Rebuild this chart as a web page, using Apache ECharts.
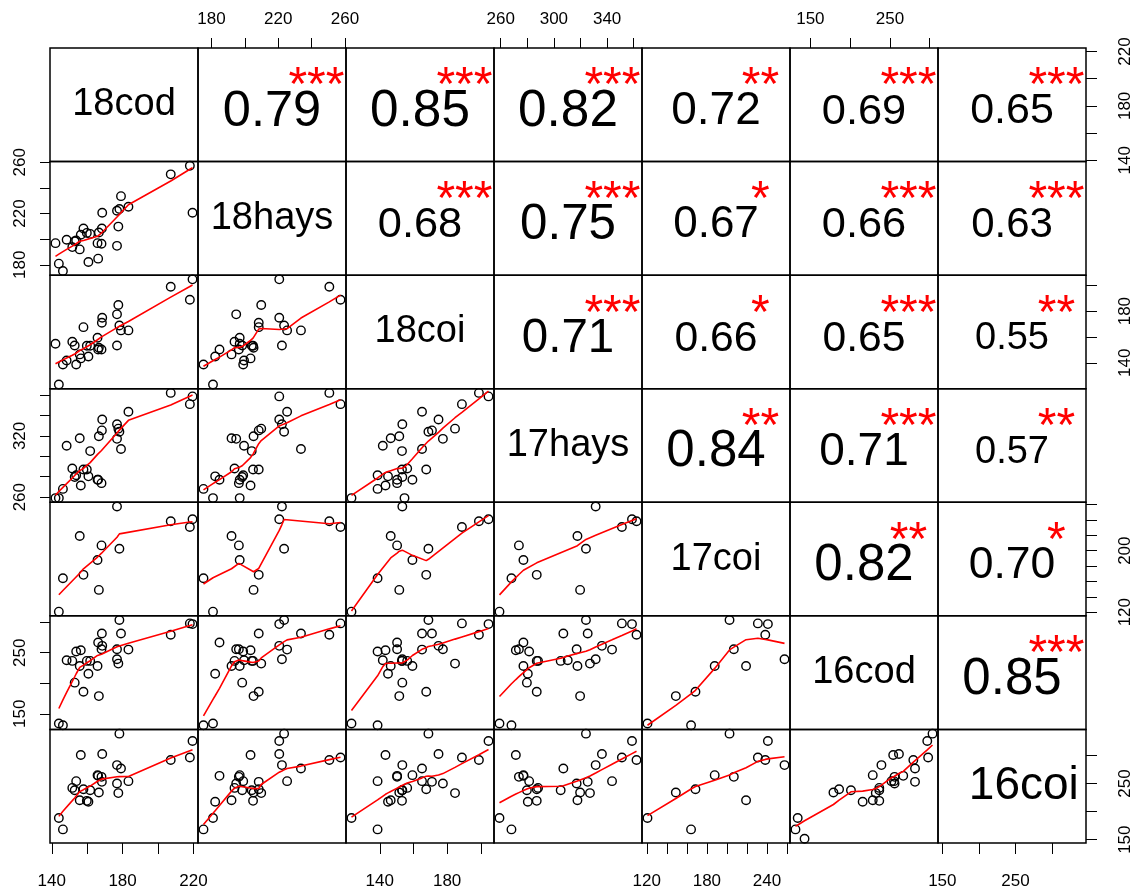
<!DOCTYPE html>
<html><head><meta charset="utf-8">
<script src="https://cdn.jsdelivr.net/npm/echarts@6/dist/echarts.min.js"></script>
<style>html,body{margin:0;padding:0;background:#fff}#c{width:1136px;height:892px}</style>
</head><body><div id="c"></div>
<script>
// ---------------- data ----------------
const varNames = ['18cod', '18hays', '18coi', '17hays', '17coi', '16cod', '16coi'];

// one entry per observation (same order in every array); null = missing
const v18cod  = [218.0, 207.2, 219.5, 179.1, 183.3, 176.85, 178.2, 168.5, 177.6, 157.9, 156.4, 159.8, 161.7, 168.3, 166.6, 148.4, 152.95, 142.1, 151.6, 155.8, 165.85, 168.1, 176.85, 160.7, 166.2, 144.0, 146.3, 153.8, null];
const v18hays = [257.3, 250.6, 220.6, 233.6, 225.3, 222.2, 223.5, 220.6, 209.8, 208.3, 203.4, 204.9, 204.1, 208.3, 205.2, 199.5, 198.4, 196.9, 193.8, 192.0, 196.9, 196.4, 194.8, 182.2, 184.8, 180.9, 175.2, 199.0, null];
const v18coi  = [188.8, 198.9, 204.6, 165.1, 165.1, 153.4, 168.9, 174.9, 184.7, 167.6, 143.4, 153.2, 153.2, 171.0, 151.6, 141.8, 153.4, 154.7, 156.3, 146.5, 159.4, 150.3, 177.5, 144.9, 150.3, 123.2, 138.7, 138.7, null];
const v17hays = [351.1, 362.1, 358.7, 307.1, 343.7, 331.4, 324.1, 336.1, 327.1, 287.1, 271.4, 287.1, 305.1, 325.4, 319.7, 310.4, 279.7, 259.1, 288.1, 317.7, 277.1, 273.7, 317.1, 280.4, 277.1, 259.1, 268.1, 281.4, null];
const v17coi  = [230.9, 238.3, 240.9, null, null, 257.5, 202.6, null, null, 168.6, null, null, null, null, 149.0, null, null, null, null, 219.1, 187.8, 206.9, null, null, null, 120.7, 164.2, null, null];
const v16cod  = [298.0, 279.4, 296.9, 281.5, 255.1, 239.3, 303.5, 261.3, 232.2, 186.1, 254.1, 236.6, 236.6, 281.5, 179.0, 237.7, 201.0, null, 236.6, 228.4, 228.4, 255.8, 255.8, 215.7, 266.7, 134.1, 131.3, 251.9, 142.7];
const v16coi  = [296.6, 292.0, 325.9, 276.9, 254.3, 282.9, 339.0, 302.6, 233.0, 240.0, 300.8, 219.2, 238.1, 253.1, 234.0, null, 238.1, null, 242.3, 220.2, 265.0, 262.0, 250.1, 217.6, 263.8, 188.6, 168.3, 254.3, 151.6];

// correlation coefficients and significance (upper triangle, row by row)
const corrRow1 = [0.79, 0.85, 0.82, 0.72, 0.69, 0.65];
const corrRow2 = [0.68, 0.75, 0.67, 0.66, 0.63];
const corrRow3 = [0.71, 0.66, 0.65, 0.55];
const corrRow4 = [0.84, 0.71, 0.57];
const corrRow5 = [0.82, 0.70];
const corrRow6 = [0.85];
const starsRow1 = ['***', '***', '***', '**', '***', '***'];
const starsRow2 = ['***', '***', '*', '***', '***'];
const starsRow3 = ['***', '*', '***', '**'];
const starsRow4 = ['**', '***', '**'];
const starsRow5 = ['**', '*'];
const starsRow6 = ['***'];

// axis ticks and labelled ticks
const ticks18cod  = [140, 160, 180, 200, 220];
const ticks18hays = [180, 200, 220, 240, 260];
const ticks18coi  = [140, 160, 180, 200];
const ticks17hays = [260, 280, 300, 320, 340, 360];
const ticks17coi  = [120, 140, 160, 180, 200, 220, 240, 260];
const ticks16cod  = [150, 200, 250, 300];
const ticks16coi  = [150, 200, 250, 300];
const labels18codBottom  = [140, 180, 220];
const labels18codRight   = [140, 180, 220];
const labels18haysTop    = [180, 220, 260];
const labels18haysLeft   = [180, 220, 260];
const labels18coiBottom  = [140, 180];
const labels18coiRight   = [140, 180];
const labels17haysTop    = [260, 300, 340];
const labels17haysLeft   = [260, 320];
const labels17coiBottom  = [120, 180, 240];
const labels17coiRight   = [120, 200];
const labels16codTop     = [150, 250];
const labels16codLeft    = [150, 250];
const labels16coiBottom  = [150, 250];
const labels16coiRight   = [150, 250];

// ---------------- styling (not data) ----------------
const corrFontSizes = [[50.5, 51.3, 51.3, 46, 43.4, 43], [43.4, 49.3, 44, 43.4, 42], [47.5, 42.7, 42.7, 38], [51, 46, 38], [51, 44.5], [51]];
const diagFontSizes = [38, 38, 38, 38, 38, 38, 46];
const diagXFrac = [0.5, 0.5, 0.5, 0.5, 0.5, 0.5, 0.58];
const FONT = '"Liberation Sans", Arial, Helvetica, sans-serif';
const L0 = 50, T0 = 48, CW = 148, CH = 795 / 7;

// ---------------- helpers ----------------
function lowess(xIn, yIn, f, nsteps) {
  f = (f === undefined) ? 2 / 3 : f;
  nsteps = (nsteps === undefined) ? 3 : nsteps;
  const n = xIn.length;
  const ord = xIn.map((v, i) => i).sort((a, b) => (xIn[a] - xIn[b]) || (a - b));
  const x = [0].concat(ord.map(i => xIn[i]));
  const y = [0].concat(ord.map(i => yIn[i]));
  if (n < 2) return [[x[1], y[1]]];
  const ys = new Array(n + 1).fill(0);
  const rw = new Array(n + 1).fill(1);
  const res = new Array(n + 1).fill(0);
  const delta = 0.01 * (x[n] - x[1]);
  const ns = Math.max(2, Math.min(n, Math.floor(f * n + 1e-7)));
  function lowest(xs, nleft, nright, userw) {
    const w = res;
    const range = x[n] - x[1];
    const h = Math.max(xs - x[nleft], x[nright] - xs);
    const h9 = 0.999 * h, h1 = 0.001 * h;
    let a = 0, j = nleft;
    while (j <= n) {
      w[j] = 0;
      const r = Math.abs(x[j] - xs);
      if (r <= h9) {
        if (r <= h1) w[j] = 1;
        else { const q = r / h; const t = 1 - q * q * q; w[j] = t * t * t; }
        if (userw) w[j] *= rw[j];
        a += w[j];
      } else if (x[j] > xs) break;
      j++;
    }
    const nrt = j - 1;
    if (a <= 0) return null;
    for (j = nleft; j <= nrt; j++) w[j] /= a;
    if (h > 0) {
      a = 0;
      for (j = nleft; j <= nrt; j++) a += w[j] * x[j];
      let b = xs - a, c = 0;
      for (j = nleft; j <= nrt; j++) c += w[j] * (x[j] - a) * (x[j] - a);
      if (Math.sqrt(c) > 0.001 * range) {
        b /= c;
        for (j = nleft; j <= nrt; j++) w[j] *= (b * (x[j] - a) + 1);
      }
    }
    let s = 0;
    for (j = nleft; j <= nrt; j++) s += w[j] * y[j];
    return s;
  }
  let iter = 1;
  while (iter <= nsteps + 1) {
    let nleft = 1, nright = ns, last = 0, i = 1;
    for (;;) {
      if (nright < n) {
        const d1 = x[i] - x[nleft], d2 = x[nright + 1] - x[i];
        if (d1 > d2) { nleft++; nright++; continue; }
      }
      const v = lowest(x[i], nleft, nright, iter > 1);
      ys[i] = (v === null) ? y[i] : v;
      if (last < i - 1) {
        const denom = x[i] - x[last];
        for (let j = last + 1; j < i; j++) {
          const alpha = (x[j] - x[last]) / denom;
          ys[j] = alpha * ys[i] + (1 - alpha) * ys[last];
        }
      }
      last = i;
      const cut = x[last] + delta;
      for (i = last + 1; i <= n; i++) {
        if (x[i] > cut) break;
        if (x[i] === x[last]) { ys[i] = ys[last]; last = i; }
      }
      i = Math.max(last + 1, i - 1);
      if (last >= n) break;
    }
    for (let k = 1; k <= n; k++) res[k] = y[k] - ys[k];
    let sc = 0;
    for (let k = 1; k <= n; k++) sc += Math.abs(res[k]);
    sc /= n;
    if (iter > nsteps) break;
    const sorted = [];
    for (let k = 1; k <= n; k++) sorted.push(Math.abs(res[k]));
    sorted.sort((a, b) => a - b);
    const m1 = Math.floor(n / 2);
    let cmad;
    if (n % 2 === 0) { const m2 = n - m1 - 1; cmad = 3 * (sorted[m1] + sorted[m2]); }
    else cmad = 6 * sorted[m1];
    if (cmad < 1e-7 * sc) break;
    const c9 = 0.999 * cmad, c1 = 0.001 * cmad;
    for (let k = 1; k <= n; k++) {
      const r = Math.abs(res[k]);
      if (r <= c1) rw[k] = 1;
      else if (r <= c9) { const q = r / cmad; rw[k] = (1 - q * q) * (1 - q * q); }
      else rw[k] = 0;
    }
    iter++;
  }
  const out = [];
  for (let k = 1; k <= n; k++) out.push([x[k], ys[k]]);
  return out;
}

const vars = [v18cod, v18hays, v18coi, v17hays, v17coi, v16cod, v16coi];
const corrRows = [corrRow1, corrRow2, corrRow3, corrRow4, corrRow5, corrRow6];
const starRows = [starsRow1, starsRow2, starsRow3, starsRow4, starsRow5, starsRow6];
const tickSets = [ticks18cod, ticks18hays, ticks18coi, ticks17hays, ticks17coi, ticks16cod, ticks16coi];
const topLabels = {1: labels18haysTop, 3: labels17haysTop, 5: labels16codTop};
const bottomLabels = {0: labels18codBottom, 2: labels18coiBottom, 4: labels17coiBottom, 6: labels16coiBottom};
const leftLabels = {1: labels18haysLeft, 3: labels17haysLeft, 5: labels16codLeft};
const rightLabels = {0: labels18codRight, 2: labels18coiRight, 4: labels17coiRight, 6: labels16coiRight};

function ext(v) {
  const a = v.filter(t => t != null);
  const mn = Math.min(...a), mx = Math.max(...a), d = (mx - mn) * 0.04;
  return [mn - d, mx + d];
}
const ranges = vars.map(ext);
const at = (r, f) => r[0] + f * (r[1] - r[0]);

const grids = [], xAxes = [], yAxes = [], series = [];
const tickStyle = {color: '#000', width: 1};
const labelBase = {show: true, fontSize: 17, color: '#000', fontFamily: FONT};
const hidden = {color: 'rgba(0,0,0,0)', opacity: 1};

for (let i = 0; i < 7; i++) {
  for (let j = 0; j < 7; j++) {
    const g = i * 7 + j;
    grids.push({left: L0 + j * CW, top: T0 + i * CH, width: CW, height: CH, show: true,
      borderColor: '#000', borderWidth: 1.5, backgroundColor: 'transparent', containLabel: false, outerBoundsMode: 'none'});
    const xa = {type: 'value', gridIndex: g, min: ranges[j][0], max: ranges[j][1], axisLine: {show: false},
      splitLine: {show: false}, axisTick: {show: false}, axisLabel: {show: false}};
    if (i === 0 && topLabels[j]) {
      xa.position = 'top';
      xa.axisTick = {show: true, inside: false, length: 10, customValues: tickSets[j], lineStyle: tickStyle};
      xa.axisLabel = Object.assign({}, labelBase, {customValues: topLabels[j], margin: 20});
    }
    if (i === 6 && bottomLabels[j]) {
      xa.position = 'bottom';
      xa.axisTick = {show: true, inside: false, length: 11, customValues: tickSets[j], lineStyle: tickStyle};
      xa.axisLabel = Object.assign({}, labelBase, {customValues: bottomLabels[j], margin: 30});
    }
    const ya = {type: 'value', gridIndex: g, min: ranges[i][0], max: ranges[i][1], axisLine: {show: false},
      splitLine: {show: false}, axisTick: {show: false}, axisLabel: {show: false}};
    if (j === 0 && leftLabels[i]) {
      ya.position = 'left';
      ya.axisTick = {show: true, inside: false, length: 10, customValues: tickSets[i], lineStyle: tickStyle};
      ya.axisLabel = Object.assign({}, labelBase, {customValues: leftLabels[i], margin: 21, rotate: 90});
    }
    if (j === 6 && rightLabels[i]) {
      ya.position = 'right';
      ya.axisTick = {show: true, inside: false, length: 11, customValues: tickSets[i], lineStyle: tickStyle};
      ya.axisLabel = Object.assign({}, labelBase, {customValues: rightLabels[i], margin: 31, rotate: 90});
    }
    xAxes.push(xa); yAxes.push(ya);

    if (i > j) {
      const pts = [];
      for (let k = 0; k < vars[j].length; k++) {
        if (vars[j][k] != null && vars[i][k] != null) pts.push([vars[j][k], vars[i][k]]);
      }
      series.push({type: 'scatter', xAxisIndex: g, yAxisIndex: g, data: pts, symbol: 'circle', symbolSize: 8.5,
        itemStyle: {color: 'rgba(0,0,0,0)', borderColor: '#000', borderWidth: 1.4, opacity: 1}, silent: true, z: 2});
      series.push({type: 'line', xAxisIndex: g, yAxisIndex: g, data: lowess(pts.map(p => p[0]), pts.map(p => p[1])),
        showSymbol: false, symbol: 'none', lineStyle: {color: '#FF0000', width: 1.6}, silent: true, z: 3});
    } else if (i === j) {
      series.push({type: 'scatter', xAxisIndex: g, yAxisIndex: g, data: [[at(ranges[j], diagXFrac[i]), at(ranges[i], 0.5)]],
        symbolSize: 1, itemStyle: hidden, silent: true,
        label: {show: true, position: 'inside', formatter: varNames[i], fontSize: diagFontSizes[i], color: '#000', fontFamily: FONT}});
    } else {
      const r = corrRows[i][j - i - 1];
      const fs = corrFontSizes[i][j - i - 1];
      series.push({type: 'scatter', xAxisIndex: g, yAxisIndex: g, data: [[at(ranges[j], 0.5), at(ranges[i], 0.44)]],
        symbolSize: 1, itemStyle: hidden, silent: true,
        label: {show: true, position: 'inside', formatter: r.toFixed(2), fontSize: fs, color: '#000', fontFamily: FONT}});
      series.push({type: 'scatter', xAxisIndex: g, yAxisIndex: g, data: [[at(ranges[j], 0.8), at(ranges[i], 0.655)]],
        symbolSize: 1, itemStyle: hidden, silent: true,
        label: {show: true, position: 'inside', formatter: starRows[i][j - i - 1], fontSize: 48, color: '#FF0000', fontFamily: FONT}});
    }
  }
}

const chart = echarts.init(document.getElementById('c'), null, {renderer: 'canvas'});
chart.setOption({
  backgroundColor: '#ffffff',
  animation: false,
  grid: grids,
  xAxis: xAxes,
  yAxis: yAxes,
  series: series
});
</script></body></html>
